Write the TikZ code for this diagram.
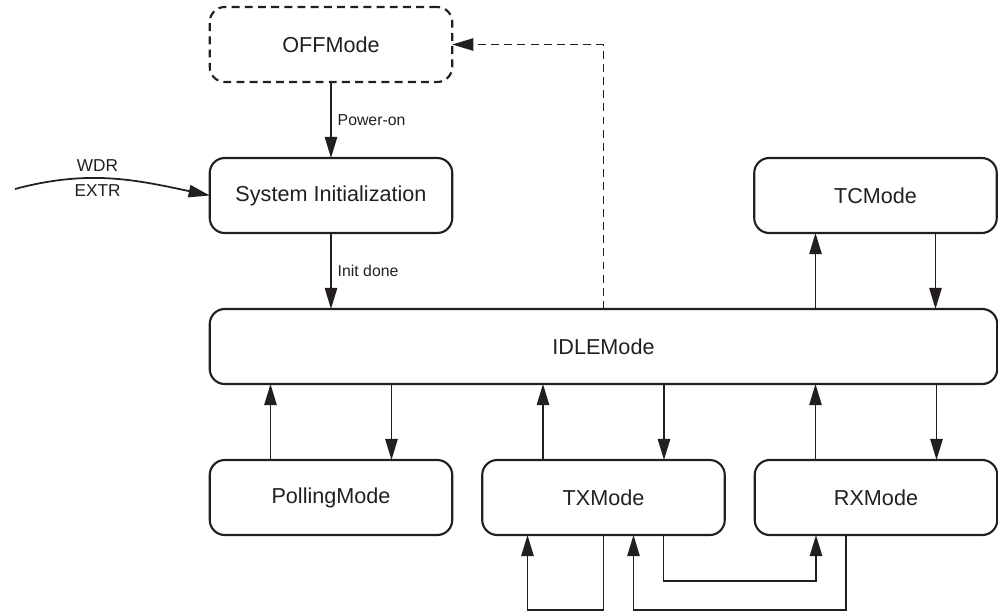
\documentclass[tikz,border=0pt]{standalone}
\usepackage{fontspec}
\setmainfont{Liberation Sans}
\usetikzlibrary{positioning, arrows.meta}
\definecolor{ink}{RGB}{35,31,32}

\begin{document}
\begin{tikzpicture}[mode/.style={draw=ink, text=ink, line width=1.2pt, outer sep=0pt, rounded corners=0.3cm, minimum width=4.85cm, minimum height=1.5cm, font=\fontsize{12.3}{14}\selectfont},
    link/.style={draw=ink, line width=1pt, -{Triangle[length=12pt, width=7pt]}},
    lbl/.style={text=ink, font=\fontsize{9}{11}\selectfont},]
    \useasboundingbox (0,0) rectangle (19.96,-12.26);
    \node[mode, dash pattern=on 4.5pt off 3pt] (off) at (6.62,-0.89) {OFFMode};
    \node[mode, below=1.52cm of off] (init) {System Initialization};
    \node[mode, right=6.04cm of init] (tc) {TCMode};
    \node[mode, minimum width=15.75cm, below=1.52cm of init.south west, anchor=north west] (idle) {IDLEMode};
    \node[mode, below=1.52cm of idle.south west, anchor=north west] (poll) {PollingMode};
    \node[mode, right=0.6cm of poll] (tx) {TXMode};
    \node[mode, right=0.6cm of tx] (rx) {RXMode};
    \coordinate (ext) at (0.3,-3.78);
    % start-up
    \draw[link] (ext) to[out=15, in=168] node[pos=0.42, above, lbl, font=\fontsize{9.8}{11}\selectfont] {WDR}
            node[pos=0.42, below, lbl, font=\fontsize{9.8}{11}\selectfont] {EXTR} (init.west);
    \draw[link] (off) -- node[right, lbl] {Power-on} (init);
    \draw[link] (init) -- node[right, lbl] {Init done} (idle.north -| init.south);
    \draw[link, dash pattern=on 4.5pt off 3pt] (idle.north) |- (off.east);
    % idle <-> modes
    \draw[link] ([xshift=-1.2cm]tc.south |- idle.north) -- ([xshift=-1.2cm]tc.south);
    \draw[link] ([xshift=1.2cm]tc.south) -- ([xshift=1.2cm]tc.south |- idle.north);
    \foreach \m in {poll, tx, rx} {
        \draw[link] ([xshift=-1.21cm]\m.north) -- ([xshift=-1.21cm]\m.north |- idle.south);
        \draw[link] ([xshift=1.21cm]\m.north |- idle.south) -- ([xshift=1.21cm]\m.north);
    }
    % tx / rx loops
    \draw[link] (tx.south) -- ++(0,-1.5) -| ([xshift=-1.52cm]tx.south);
    \draw[link] ([xshift=1.2cm]tx.south) -- ++(0,-0.92) -| ([xshift=-1.2cm]rx.south);
    \draw[link] ([xshift=-0.6cm]rx.south) -- ++(0,-1.5) -| ([xshift=0.6cm]tx.south);
\end{tikzpicture}
\end{document}
